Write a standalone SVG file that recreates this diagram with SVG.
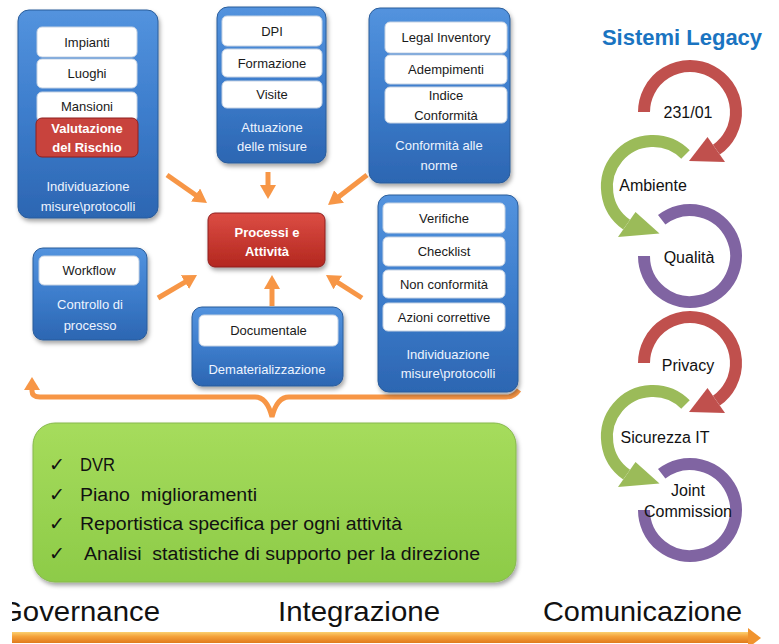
<svg xmlns="http://www.w3.org/2000/svg" width="779" height="644" viewBox="0 0 779 644">
<style>
text{font-family:"Liberation Sans",Arial,sans-serif}
.blue{fill:url(#gBlue);stroke:#2a5c9a;stroke-width:1;filter:url(#sh)}
.inner{fill:#fff;stroke:#c5d2e3;stroke-width:1}
.it{font-size:13px;fill:#1a1a1a;text-anchor:middle}
.lbl{font-size:13px;fill:#eef4ff;text-anchor:middle}
.wb{font-size:13px;fill:#fff;font-weight:bold;text-anchor:middle}
.conn{stroke:#f79646;stroke-width:5;fill:none}
.ct{font-size:16px;fill:#111;text-anchor:middle}
.gt{font-size:18px;fill:#111}
.ck{font-family:"DejaVu Sans",sans-serif;font-size:19px;fill:#111}
.big{font-size:28px;fill:#111}
.arcR{stroke:#c0504d;stroke-width:12;fill:none}
.arcG{stroke:#9bbb59;stroke-width:12;fill:none}
.arcP{stroke:#8064a2;stroke-width:12;fill:none}
</style>
<defs>
<linearGradient id="gBlue" x1="0" y1="0" x2="0" y2="1"><stop offset="0" stop-color="#5393de"/><stop offset="0.5" stop-color="#3d7dcc"/><stop offset="1" stop-color="#2c66b2"/></linearGradient>
<linearGradient id="gRed" x1="0" y1="0" x2="0" y2="1"><stop offset="0" stop-color="#dc4d44"/><stop offset="1" stop-color="#b3271f"/></linearGradient>
<linearGradient id="gGreen" x1="0" y1="0" x2="0" y2="1"><stop offset="0" stop-color="#a6dc5c"/><stop offset="1" stop-color="#8dcb48"/></linearGradient>
<linearGradient id="gBar" x1="0" y1="0" x2="0" y2="1"><stop offset="0" stop-color="#fbd070"/><stop offset="0.4" stop-color="#f5a23a"/><stop offset="1" stop-color="#e07a1c"/></linearGradient>
<filter id="sh" x="-10%" y="-10%" width="130%" height="130%"><feDropShadow dx="1.5" dy="3" stdDeviation="2" flood-color="#000" flood-opacity="0.35"/></filter>
<marker id="ah" viewBox="0 0 14 16" markerWidth="14" markerHeight="16" refX="4" refY="8" orient="auto" markerUnits="userSpaceOnUse"><path d="M0,0 L14,8 L0,16 z" fill="#f79646"/></marker>
<clipPath id="clipL"><rect x="12" y="580" width="767" height="64"/></clipPath>
</defs>
<rect width="779" height="644" fill="#fff"/>

<g id="connectors">
<line class="conn" x1="167" y1="175" x2="198.8" y2="197.3" marker-end="url(#ah)"/>
<line class="conn" x1="268" y1="172" x2="268" y2="189" marker-end="url(#ah)"/>
<line class="conn" x1="367" y1="175" x2="335.9" y2="198.9" marker-end="url(#ah)"/>
<line class="conn" x1="158" y1="298" x2="188.4" y2="280.1" marker-end="url(#ah)"/>
<line class="conn" x1="272" y1="306" x2="272" y2="285" marker-end="url(#ah)"/>
<line class="conn" x1="362" y1="298" x2="334.4" y2="280.4" marker-end="url(#ah)"/>
<path class="conn" stroke-width="4" d="M32,388 L32,391 Q32,397 40,397 L255,397 Q267,397 272,417 Q277,397 289,397 L506,397 Q514,397 519,390"/>
<polygon points="24,390 32,377 40,390" fill="#f79646"/>
</g>

<g id="n-individuazione1">
<rect class="blue" x="18" y="10" width="140" height="208" rx="11"/>
<rect class="inner" x="37" y="27" width="100" height="30" rx="5"/>
<text class="it" x="87" y="47">Impianti</text>
<rect class="inner" x="37" y="59" width="100" height="29" rx="5"/>
<text class="it" x="87" y="78">Luoghi</text>
<rect class="inner" x="37" y="92" width="100" height="30" rx="5"/>
<text class="it" x="87" y="111">Mansioni</text>
<rect x="36" y="118" width="102" height="39" rx="6" fill="#c8433d" stroke="#8e1f1f" stroke-width="1"/>
<text class="wb" x="87" y="133">Valutazione</text>
<text class="wb" x="87" y="152">del Rischio</text>
<text class="lbl" x="88" y="191">Individuazione</text>
<text class="lbl" x="88" y="211">misure\protocolli</text>
</g>

<g id="n-attuazione">
<rect class="blue" x="217" y="7" width="109" height="156" rx="11"/>
<rect class="inner" x="222" y="16" width="100" height="30" rx="5"/>
<text class="it" x="272" y="35.5">DPI</text>
<rect class="inner" x="222" y="49" width="100" height="28" rx="5"/>
<text class="it" x="272" y="67.5">Formazione</text>
<rect class="inner" x="222" y="81" width="100" height="27" rx="5"/>
<text class="it" x="272" y="99">Visite</text>
<text class="lbl" x="272" y="132">Attuazione</text>
<text class="lbl" x="272" y="151">delle misure</text>
</g>

<g id="n-conformita">
<rect class="blue" x="369" y="8" width="141" height="175" rx="11"/>
<rect class="inner" x="385" y="22" width="122" height="31" rx="5"/>
<text class="it" x="446" y="42">Legal Inventory</text>
<rect class="inner" x="385" y="55" width="122" height="29" rx="5"/>
<text class="it" x="446" y="74">Adempimenti</text>
<rect class="inner" x="385" y="87" width="122" height="36" rx="5"/>
<text class="it" x="446" y="99.5">Indice</text>
<text class="it" x="446" y="119.5">Conformità</text>
<text class="lbl" x="439" y="149.5">Conformità alle</text>
<text class="lbl" x="439" y="169.5">norme</text>
</g>

<g id="n-processi">
<rect x="208" y="213" width="117" height="54" rx="7" fill="url(#gRed)" stroke="#8e1f1f" stroke-width="1" filter="url(#sh)"/>
<text class="wb" x="267" y="236.5">Processi e</text>
<text class="wb" x="267" y="255.5">Attività</text>
</g>

<g id="n-individuazione2">
<rect class="blue" x="378" y="195" width="140" height="197" rx="11"/>
<rect class="inner" x="383" y="203" width="122" height="30" rx="5"/>
<text class="it" x="444" y="222.5">Verifiche</text>
<rect class="inner" x="383" y="237" width="122" height="29" rx="5"/>
<text class="it" x="444" y="256">Checklist</text>
<rect class="inner" x="383" y="270" width="122" height="28" rx="5"/>
<text class="it" x="444" y="288.5">Non conformità</text>
<rect class="inner" x="383" y="303" width="122" height="28" rx="5"/>
<text class="it" x="444" y="321.5">Azioni correttive</text>
<text class="lbl" x="448" y="358.5">Individuazione</text>
<text class="lbl" x="448" y="377.5">misure\protocolli</text>
</g>

<g id="n-controllo">
<rect class="blue" x="33" y="248" width="114" height="92" rx="10"/>
<rect class="inner" x="39" y="256" width="100" height="29" rx="5"/>
<text class="it" x="89" y="275">Workflow</text>
<text class="lbl" x="90" y="308.5">Controllo di</text>
<text class="lbl" x="90" y="329.5">processo</text>
</g>

<g id="n-dematerializzazione">
<rect class="blue" x="192" y="307" width="151" height="79" rx="10"/>
<rect class="inner" x="199" y="315" width="139" height="31" rx="5"/>
<text class="it" x="268.5" y="335">Documentale</text>
<text class="lbl" x="267" y="373.5">Dematerializzazione</text>
</g>

<g id="n-output">
<rect x="33" y="423" width="483" height="159" rx="22" fill="url(#gGreen)" stroke="#86b84c" stroke-width="1" filter="url(#sh)"/>
<text class="ck" x="49" y="471">✓</text>
<text class="gt" x="80" y="471" textLength="35" lengthAdjust="spacingAndGlyphs">DVR</text>
<text class="ck" x="49" y="501">✓</text>
<text class="gt" x="80" y="501" textLength="177" lengthAdjust="spacingAndGlyphs" xml:space="preserve">Piano  miglioramenti</text>
<text class="ck" x="49" y="530">✓</text>
<text class="gt" x="80" y="530" textLength="322" lengthAdjust="spacingAndGlyphs">Reportistica specifica per ogni attività</text>
<text class="ck" x="49" y="560">✓</text>
<text class="gt" x="84" y="560" textLength="396" lengthAdjust="spacingAndGlyphs" xml:space="preserve">Analisi  statistiche di supporto per la direzione</text>
</g>

<g id="n-legacy">
<text x="682" y="45" text-anchor="middle" font-size="22" font-weight="bold" fill="#1a74c1">Sistemi Legacy</text>
</g>

<g id="n-231">
<path class="arcR" d="M644,112 A46,46 0 1 1 716.4,149.7"/>
<polygon points="725,162 707.5,137 689,161" fill="#c0504d"/>
<text class="ct" x="688" y="118" font-size="17">231/01</text>
</g>
<g id="n-ambiente">
<path class="arcG" d="M685.5,154.5 A46,46 0 1 0 626.6,224.7"/>
<polygon points="618,237 635.5,212 659.5,233.5" fill="#9bbb59"/>
<text class="ct" x="653" y="191" font-size="17">Ambiente</text>
</g>
<g id="n-qualita">
<path class="arcP" d="M661.7,219.8 A46,46 0 1 1 644,256"/>
<text class="ct" x="689" y="263" font-size="17">Qualità</text>
</g>
<g id="n-privacy">
<path class="arcR" d="M644,363 A46,46 0 1 1 716.4,400.7"/>
<polygon points="725,413 707.5,388 689,412" fill="#c0504d"/>
<text class="ct" x="688" y="371" font-size="17">Privacy</text>
</g>
<g id="n-sicurezza">
<path class="arcG" d="M685.5,404.5 A46,46 0 1 0 626.6,474.7"/>
<polygon points="618,487 635.5,462 659.5,483.5" fill="#9bbb59"/>
<text class="ct" x="665" y="443">Sicurezza IT</text>
</g>
<g id="n-joint">
<path class="arcP" d="M661.7,473.8 A46,46 0 1 1 644,510"/>
<text class="ct" x="688" y="496">Joint</text>
<text class="ct" x="688" y="517">Commission</text>
</g>

<g id="n-timeline">
<g clip-path="url(#clipL)">
<text class="big" x="0" y="621" textLength="160" lengthAdjust="spacingAndGlyphs">Governance</text>
<rect x="12" y="632" width="738" height="11" fill="url(#gBar)"/>
</g>
<text class="big" x="278" y="621" textLength="162" lengthAdjust="spacingAndGlyphs">Integrazione</text>
<text class="big" x="543" y="621" textLength="199" lengthAdjust="spacingAndGlyphs">Comunicazione</text>
<polygon points="748,628 761,638 748,648" fill="#f0932e"/>
</g>
</svg>
